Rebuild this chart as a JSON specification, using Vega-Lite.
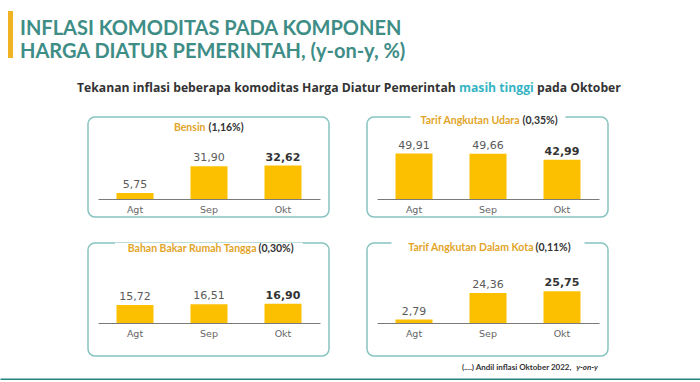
{
  "$schema": "https://vega.github.io/schema/vega-lite/v6.json",
  "padding": {"top": 11, "left": 8, "right": 0, "bottom": 0},
  "background": "white",
  "config": {
    "view": {"stroke": null},
    "locale": {"number": {"decimal": ",", "thousands": ".", "grouping": [3], "currency": ["Rp", ""]}},
    "title": {"font": "Lato", "fontWeight": "bold"}
  },
  "datasets": {
    "inflasi": [
      {"komoditas": "Bensin", "andil": "(1,16%)", "bulan": "Agt", "nilai": 5.75},
      {"komoditas": "Bensin", "andil": "(1,16%)", "bulan": "Sep", "nilai": 31.90},
      {"komoditas": "Bensin", "andil": "(1,16%)", "bulan": "Okt", "nilai": 32.62},
      {"komoditas": "Tarif Angkutan Udara", "andil": "(0,35%)", "bulan": "Agt", "nilai": 49.91},
      {"komoditas": "Tarif Angkutan Udara", "andil": "(0,35%)", "bulan": "Sep", "nilai": 49.66},
      {"komoditas": "Tarif Angkutan Udara", "andil": "(0,35%)", "bulan": "Okt", "nilai": 42.99},
      {"komoditas": "Bahan Bakar Rumah Tangga", "andil": "(0,30%)", "bulan": "Agt", "nilai": 15.72},
      {"komoditas": "Bahan Bakar Rumah Tangga", "andil": "(0,30%)", "bulan": "Sep", "nilai": 16.51},
      {"komoditas": "Bahan Bakar Rumah Tangga", "andil": "(0,30%)", "bulan": "Okt", "nilai": 16.90},
      {"komoditas": "Tarif Angkutan Dalam Kota", "andil": "(0,11%)", "bulan": "Agt", "nilai": 2.79},
      {"komoditas": "Tarif Angkutan Dalam Kota", "andil": "(0,11%)", "bulan": "Sep", "nilai": 24.36},
      {"komoditas": "Tarif Angkutan Dalam Kota", "andil": "(0,11%)", "bulan": "Okt", "nilai": 25.75}
    ]
  },
  "columns": 3,
  "bounds": "flush",
  "spacing": {"row": 26, "column": 38},
  "concat": [
    {
      "width": 5, "height": 47,
      "view": {"fill": "#f0b323", "stroke": null},
      "data": {"values": []},
      "mark": "point",
      "title": {"text": ["INFLASI KOMODITAS PADA KOMPONEN", "HARGA DIATUR PEMERINTAH, (y-on-y, %)"], "orient": "bottom", "anchor": "start", "dx": 12, "offset": -39, "fontSize": 20, "lineHeight": 23, "color": "#3e8d86", "font": "Lato", "fontWeight": "bold"}
    },
    {
      "width": 241, "height": 80,
      "data": {"values": []},
      "mark": "point",
      "title": {"text": "Tekanan inflasi beberapa komoditas Harga Diatur Pemerintah", "orient": "bottom", "anchor": "start", "dx": -11, "offset": -9, "fontSize": 12.2, "color": "#333333", "font": "Open Sans", "fontWeight": "bold"}
    },
    {
      "width": 241, "height": 80,
      "data": {"values": []},
      "mark": "point",
      "title": {"text": "masih tinggi", "orient": "bottom", "anchor": "start", "dx": 92, "offset": -9, "fontSize": 12.2, "color": "#36b4c4", "font": "Open Sans", "fontWeight": "bold"}
    },
    {
      "width": 42, "height": 100,
      "data": {"values": []},
      "mark": "point",
      "title": {"text": "pada Oktober", "orient": "bottom", "anchor": "start", "dx": 529, "offset": -135, "fontSize": 12.2, "color": "#333333", "font": "Open Sans", "fontWeight": "bold"}
    },
    {
      "width": 241, "height": 100,
      "view": {"stroke": "#86c4c1", "strokeWidth": 1.5, "cornerRadius": 7},
      "data": {"name": "inflasi"},
      "transform": [{"filter": "datum.komoditas === 'Bensin'"}],
      "encoding": {
        "x": {"field": "bulan", "type": "nominal", "sort": null,
              "scale": {"domain": ["Agt", "Sep", "Okt"], "range": [10, 232], "paddingInner": 0.5, "paddingOuter": 0.25},
              "axis": {"orient": "bottom", "offset": -18, "title": null, "labelAngle": 0, "ticks": false, "domainColor": "#7a7a7a", "domainWidth": 1.2, "labelColor": "#666666", "labelFont": "DejaVu Sans", "labelFontSize": 9.5, "labelPadding": 5}}
      },
      "layer": [
        {"mark": {"type": "bar", "color": "#fcc000"},
         "encoding": {"y": {"field": "nilai", "type": "quantitative", "scale": {"domain": [0, 70.4], "range": [82, 0]}, "axis": null}}},
        {"transform": [{"filter": "datum.bulan !== 'Okt'"}],
         "mark": {"type": "text", "baseline": "bottom", "dy": -3, "font": "DejaVu Sans", "fontSize": 11, "color": "#5a5a5a"},
         "encoding": {"y": {"field": "nilai", "type": "quantitative"}, "text": {"field": "nilai", "type": "quantitative", "format": ".2f"}}},
        {"transform": [{"filter": "datum.bulan === 'Okt'"}],
         "mark": {"type": "text", "baseline": "bottom", "dy": -3, "font": "DejaVu Sans", "fontSize": 11, "fontWeight": "bold", "color": "#333333"},
         "encoding": {"y": {"field": "nilai", "type": "quantitative"}, "text": {"field": "nilai", "type": "quantitative", "format": ".2f"}}},
        {"transform": [{"filter": "datum.bulan === 'Okt'"}],
         "mark": {"type": "bar", "color": "white", "width": {"band": 2.73}},
         "encoding": {"x": {"datum": "Sep"}, "y": {"datum": 75.3}, "y2": {"datum": 65.5}}},
        {"transform": [{"filter": "datum.bulan === 'Okt'"}],
         "mark": {"type": "text", "align": "right", "baseline": "middle", "dx": -3.5, "dy": 1, "font": "Lato", "fontWeight": "bold", "fontSize": 10.5, "color": "#e2a52a"},
         "encoding": {"x": {"datum": "Sep"}, "y": {"datum": 70.4}, "text": {"field": "komoditas"}}},
        {"transform": [{"filter": "datum.bulan === 'Okt'"}],
         "mark": {"type": "text", "align": "left", "baseline": "middle", "dx": -0.5, "dy": 1, "font": "Lato", "fontWeight": "bold", "fontSize": 10.5, "color": "#333333"},
         "encoding": {"x": {"datum": "Sep"}, "y": {"datum": 70.4}, "text": {"field": "andil"}}}
      ]
    },
    {
      "width": 241, "height": 100,
      "view": {"stroke": "#86c4c1", "strokeWidth": 1.5, "cornerRadius": 7},
      "data": {"name": "inflasi"},
      "transform": [{"filter": "datum.komoditas === 'Tarif Angkutan Udara'"}],
      "encoding": {
        "x": {"field": "bulan", "type": "nominal", "sort": null,
              "scale": {"domain": ["Agt", "Sep", "Okt"], "range": [10, 232], "paddingInner": 0.5, "paddingOuter": 0.25},
              "axis": {"orient": "bottom", "offset": -18, "title": null, "labelAngle": 0, "ticks": false, "domainColor": "#7a7a7a", "domainWidth": 1.2, "labelColor": "#666666", "labelFont": "DejaVu Sans", "labelFontSize": 9.5, "labelPadding": 5}}
      },
      "layer": [
        {"mark": {"type": "bar", "color": "#fcc000"},
         "encoding": {"y": {"field": "nilai", "type": "quantitative", "scale": {"domain": [0, 87.2], "range": [82, 0]}, "axis": null}}},
        {"transform": [{"filter": "datum.bulan !== 'Okt'"}],
         "mark": {"type": "text", "baseline": "bottom", "dy": -3, "font": "DejaVu Sans", "fontSize": 11, "color": "#5a5a5a"},
         "encoding": {"y": {"field": "nilai", "type": "quantitative"}, "text": {"field": "nilai", "type": "quantitative", "format": ".2f"}}},
        {"transform": [{"filter": "datum.bulan === 'Okt'"}],
         "mark": {"type": "text", "baseline": "bottom", "dy": -3, "font": "DejaVu Sans", "fontSize": 11, "fontWeight": "bold", "color": "#333333"},
         "encoding": {"y": {"field": "nilai", "type": "quantitative"}, "text": {"field": "nilai", "type": "quantitative", "format": ".2f"}}},
        {"transform": [{"filter": "datum.bulan === 'Okt'"}],
         "mark": {"type": "bar", "color": "white", "width": {"band": 4.19}},
         "encoding": {"x": {"datum": "Sep"}, "y": {"datum": 93.3}, "y2": {"datum": 81.1}}},
        {"transform": [{"filter": "datum.bulan === 'Okt'"}],
         "mark": {"type": "text", "align": "right", "baseline": "middle", "dx": 31.5, "dy": 1, "font": "Lato", "fontWeight": "bold", "fontSize": 10.5, "color": "#e2a52a"},
         "encoding": {"x": {"datum": "Sep"}, "y": {"datum": 87.2}, "text": {"field": "komoditas"}}},
        {"transform": [{"filter": "datum.bulan === 'Okt'"}],
         "mark": {"type": "text", "align": "left", "baseline": "middle", "dx": 34.5, "dy": 1, "font": "Lato", "fontWeight": "bold", "fontSize": 10.5, "color": "#333333"},
         "encoding": {"x": {"datum": "Sep"}, "y": {"datum": 87.2}, "text": {"field": "andil"}}}
      ]
    },
    {
      "width": 42, "height": 113,
      "data": {"values": []},
      "mark": "rule",
      "encoding": {
        "x": {"field": "strip", "type": "quantitative",
              "scale": {"domain": [0, 1], "range": [-8, 692]},
              "axis": {"orient": "bottom", "offset": 24, "domainColor": "#24857c", "domainWidth": 4, "domainCap": "butt", "ticks": false, "labels": false, "grid": false, "title": null}}
      }
    },
    {
      "width": 241, "height": 113,
      "view": {"stroke": "#86c4c1", "strokeWidth": 1.5, "cornerRadius": 7},
      "data": {"name": "inflasi"},
      "transform": [{"filter": "datum.komoditas === 'Bahan Bakar Rumah Tangga'"}],
      "title": {"text": "(....) Andil inflasi Oktober 2022,", "orient": "bottom", "anchor": "start", "dx": 374, "offset": 8, "fontSize": 8, "color": "#333333", "font": "Lato", "fontWeight": "bold"},
      "encoding": {
        "x": {"field": "bulan", "type": "nominal", "sort": null,
              "scale": {"domain": ["Agt", "Sep", "Okt"], "range": [10, 232], "paddingInner": 0.5, "paddingOuter": 0.25},
              "axis": {"orient": "bottom", "offset": -33, "title": null, "labelAngle": 0, "ticks": false, "domainColor": "#7a7a7a", "domainWidth": 1.2, "labelColor": "#666666", "labelFont": "DejaVu Sans", "labelFontSize": 9.5, "labelPadding": 5}}
      },
      "layer": [
        {"mark": {"type": "bar", "color": "#fcc000"},
         "encoding": {"y": {"field": "nilai", "type": "quantitative", "scale": {"domain": [0, 65.6], "range": [80, 0]}, "axis": null}}},
        {"transform": [{"filter": "datum.bulan !== 'Okt'"}],
         "mark": {"type": "text", "baseline": "bottom", "dy": -3, "font": "DejaVu Sans", "fontSize": 11, "color": "#5a5a5a"},
         "encoding": {"y": {"field": "nilai", "type": "quantitative"}, "text": {"field": "nilai", "type": "quantitative", "format": ".2f"}}},
        {"transform": [{"filter": "datum.bulan === 'Okt'"}],
         "mark": {"type": "text", "baseline": "bottom", "dy": -3, "font": "DejaVu Sans", "fontSize": 11, "fontWeight": "bold", "color": "#333333"},
         "encoding": {"y": {"field": "nilai", "type": "quantitative"}, "text": {"field": "nilai", "type": "quantitative", "format": ".2f"}}},
        {"transform": [{"filter": "datum.bulan === 'Okt'"}],
         "mark": {"type": "bar", "color": "white", "width": {"band": 5.08}},
         "encoding": {"x": {"datum": "Sep"}, "y": {"datum": 70.2}, "y2": {"datum": 61.0}}},
        {"transform": [{"filter": "datum.bulan === 'Okt'"}],
         "mark": {"type": "text", "align": "right", "baseline": "middle", "dx": 47.5, "dy": 1, "font": "Lato", "fontWeight": "bold", "fontSize": 10.5, "color": "#e2a52a"},
         "encoding": {"x": {"datum": "Sep"}, "y": {"datum": 65.6}, "text": {"field": "komoditas"}}},
        {"transform": [{"filter": "datum.bulan === 'Okt'"}],
         "mark": {"type": "text", "align": "left", "baseline": "middle", "dx": 49.5, "dy": 1, "font": "Lato", "fontWeight": "bold", "fontSize": 10.5, "color": "#333333"},
         "encoding": {"x": {"datum": "Sep"}, "y": {"datum": 65.6}, "text": {"field": "andil"}}}
      ]
    },
    {
      "width": 241, "height": 113,
      "view": {"stroke": "#86c4c1", "strokeWidth": 1.5, "cornerRadius": 7},
      "data": {"name": "inflasi"},
      "transform": [{"filter": "datum.komoditas === 'Tarif Angkutan Dalam Kota'"}],
      "title": {"text": "y-on-y", "orient": "bottom", "anchor": "end", "dx": -10, "offset": 8, "fontSize": 8, "color": "#333333", "font": "Lato", "fontWeight": "bold", "fontStyle": "italic"},
      "encoding": {
        "x": {"field": "bulan", "type": "nominal", "sort": null,
              "scale": {"domain": ["Agt", "Sep", "Okt"], "range": [10, 232], "paddingInner": 0.5, "paddingOuter": 0.25},
              "axis": {"orient": "bottom", "offset": -33, "title": null, "labelAngle": 0, "ticks": false, "domainColor": "#7a7a7a", "domainWidth": 1.2, "labelColor": "#666666", "labelFont": "DejaVu Sans", "labelFontSize": 9.5, "labelPadding": 5}}
      },
      "layer": [
        {"mark": {"type": "bar", "color": "#fcc000"},
         "encoding": {"y": {"field": "nilai", "type": "quantitative", "scale": {"domain": [0, 61.5], "range": [80, 0]}, "axis": null}}},
        {"transform": [{"filter": "datum.bulan !== 'Okt'"}],
         "mark": {"type": "text", "baseline": "bottom", "dy": -3, "font": "DejaVu Sans", "fontSize": 11, "color": "#5a5a5a"},
         "encoding": {"y": {"field": "nilai", "type": "quantitative"}, "text": {"field": "nilai", "type": "quantitative", "format": ".2f"}}},
        {"transform": [{"filter": "datum.bulan === 'Okt'"}],
         "mark": {"type": "text", "baseline": "bottom", "dy": -3, "font": "DejaVu Sans", "fontSize": 11, "fontWeight": "bold", "color": "#333333"},
         "encoding": {"y": {"field": "nilai", "type": "quantitative"}, "text": {"field": "nilai", "type": "quantitative", "format": ".2f"}}},
        {"transform": [{"filter": "datum.bulan === 'Okt'"}],
         "mark": {"type": "bar", "color": "white", "width": {"band": 5.22}},
         "encoding": {"x": {"datum": "Sep"}, "y": {"datum": 65.8}, "y2": {"datum": 57.2}}},
        {"transform": [{"filter": "datum.bulan === 'Okt'"}],
         "mark": {"type": "text", "align": "right", "baseline": "middle", "dx": 45.5, "dy": 1, "font": "Lato", "fontWeight": "bold", "fontSize": 10.5, "color": "#e2a52a"},
         "encoding": {"x": {"datum": "Sep"}, "y": {"datum": 61.5}, "text": {"field": "komoditas"}}},
        {"transform": [{"filter": "datum.bulan === 'Okt'"}],
         "mark": {"type": "text", "align": "left", "baseline": "middle", "dx": 47.5, "dy": 1, "font": "Lato", "fontWeight": "bold", "fontSize": 10.5, "color": "#333333"},
         "encoding": {"x": {"datum": "Sep"}, "y": {"datum": 61.5}, "text": {"field": "andil"}}}
      ]
    }
  ]
}
